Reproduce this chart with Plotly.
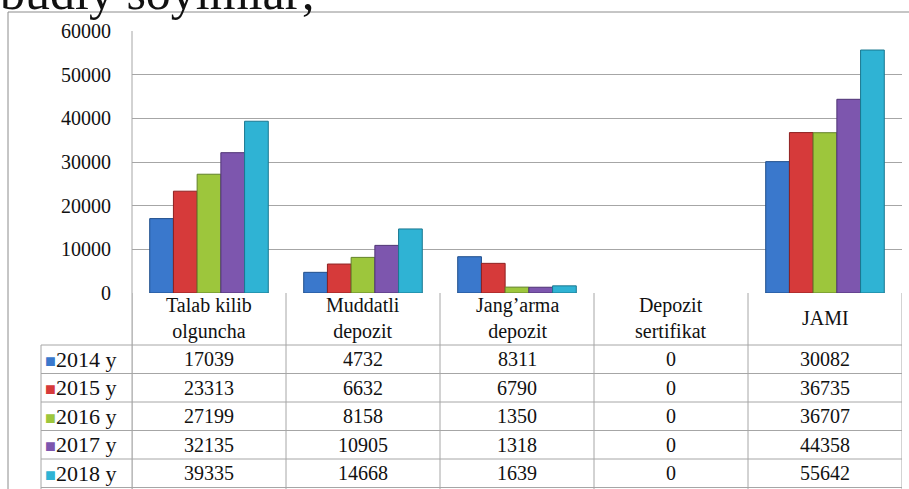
import plotly.graph_objects as go

categories = ["Talab kilib<br>olguncha", "Muddatli<br>depozit", "Jang’arma<br>depozit",
              "Depozit<br>sertifikat", "JAMI"]
series_names = ["2014 y", "2015 y", "2016 y", "2017 y", "2018 y"]
v2014 = [17039, 4732, 8311, 0, 30082]
v2015 = [23313, 6632, 6790, 0, 36735]
v2016 = [27199, 8158, 1350, 0, 36707]
v2017 = [32135, 10905, 1318, 0, 44358]
v2018 = [39335, 14668, 1639, 0, 55642]
series_values = [v2014, v2015, v2016, v2017, v2018]
y_ticks = [0, 10000, 20000, 30000, 40000, 50000, 60000]
title_text = "budly soyimlar;"

colors = ["#3A78CC", "#D63A3A", "#9DC63C", "#7D56AE", "#2FB3D4"]
edges = ["#1F4E8C", "#8E2020", "#62822A", "#4E3374", "#1A7890"]

W, H = 909, 489
L, R, T, B = 132, 902, 31, 293
PW, PH = R - L, B - T
FONT = "Liberation Serif, Times New Roman, serif"
GRID = "#A6A6A6"


def py(pix):  # pixel y -> paper y
    return (B - pix) / PH


def px(pix):  # pixel x -> paper x
    return (pix - L) / PW


fig = go.Figure()
for name, vals, c, e in zip(series_names, series_values, colors, edges):
    fig.add_trace(go.Bar(x=categories, y=vals, name=name,
                         marker=dict(color=c, line=dict(color=e,
                                                        width=[1 if v > 0 else 0 for v in vals]))))

shapes = []
annotations = []
ncat = len(categories)
for i in range(ncat + 1):
    shapes.append(dict(type="line", xref="x", yref="paper", x0=i - 0.5, x1=i - 0.5,
                       y0=py(H), y1=0, line=dict(color=GRID, width=1)))
header_bottom = 345
row_h = 28.5
for k in range(len(series_names) + 1):
    yy = header_bottom + k * row_h
    shapes.append(dict(type="line", xref="paper", yref="paper", x0=px(41), x1=1,
                       y0=py(yy), y1=py(yy), line=dict(color=GRID, width=1)))
shapes.append(dict(type="line", xref="paper", yref="paper", x0=px(41), x1=px(41),
                   y0=py(H), y1=py(header_bottom), line=dict(color=GRID, width=1)))
shapes.append(dict(type="line", xref="paper", yref="paper", x0=0, x1=0,
                   y0=py(H), y1=1, line=dict(color=GRID, width=1)))
shapes.append(dict(type="line", xref="paper", yref="paper", x0=px(8), x1=px(8),
                   y0=py(H), y1=py(12), line=dict(color="#8C8C8C", width=1)))
shapes.append(dict(type="line", xref="paper", yref="paper", x0=px(8), x1=px(W),
                   y0=py(12), y1=py(12), line=dict(color="#8C8C8C", width=1)))

for c in categories:
    annotations.append(dict(x=c, xref="x", y=py(318), yref="paper", text=c,
                            showarrow=False, font=dict(family=FONT, size=20, color="#111"),
                            xanchor="center", yanchor="middle"))
for k, (name, vals, col) in enumerate(zip(series_names, series_values, colors)):
    yc = header_bottom + (k + 0.5) * row_h
    annotations.append(dict(x=px(43), xref="paper", y=py(yc), yref="paper",
                            text=f"<span style='color:{col};font-size:18px'>■</span>{name}",
                            showarrow=False, xanchor="left", yanchor="middle",
                            font=dict(family=FONT, size=22, color="#111")))
    for c, v in zip(categories, vals):
        annotations.append(dict(x=c, xref="x", y=py(yc), yref="paper", text=f"{v}",
                                showarrow=False, xanchor="center", yanchor="middle",
                                font=dict(family=FONT, size=20, color="#111")))

annotations.append(dict(x=px(-2), xref="paper", y=py(22), yref="paper", text=title_text,
                        showarrow=False, xanchor="left", yanchor="bottom",
                        font=dict(family=FONT, size=50, color="#111")))

fig.update_layout(
    width=W, height=H,
    margin=dict(l=L, r=W - R, t=T, b=H - B, pad=0),
    paper_bgcolor="white", plot_bgcolor="white",
    barmode="group", bargap=0.23, bargroupgap=0,
    showlegend=False,
    shapes=shapes, annotations=annotations,
    font=dict(family=FONT, size=20, color="#111"),
)
fig.update_xaxes(showticklabels=False, showgrid=False, zeroline=False,
                 showline=False, ticks="", range=[-0.5, ncat - 0.5])
fig.update_yaxes(range=[0, 60000], tickvals=y_ticks, ticktext=[str(t) for t in y_ticks],
                 showgrid=True, gridcolor=GRID, gridwidth=1, zeroline=False,
                 showline=False, ticks="", ticklabelstandoff=20,
                 tickfont=dict(family=FONT, size=20, color="#111"))

fig.write_html("out.html", config={"displayModeBar": False},
               post_script="document.body.style.margin='0';document.body.style.overflow='hidden';")
